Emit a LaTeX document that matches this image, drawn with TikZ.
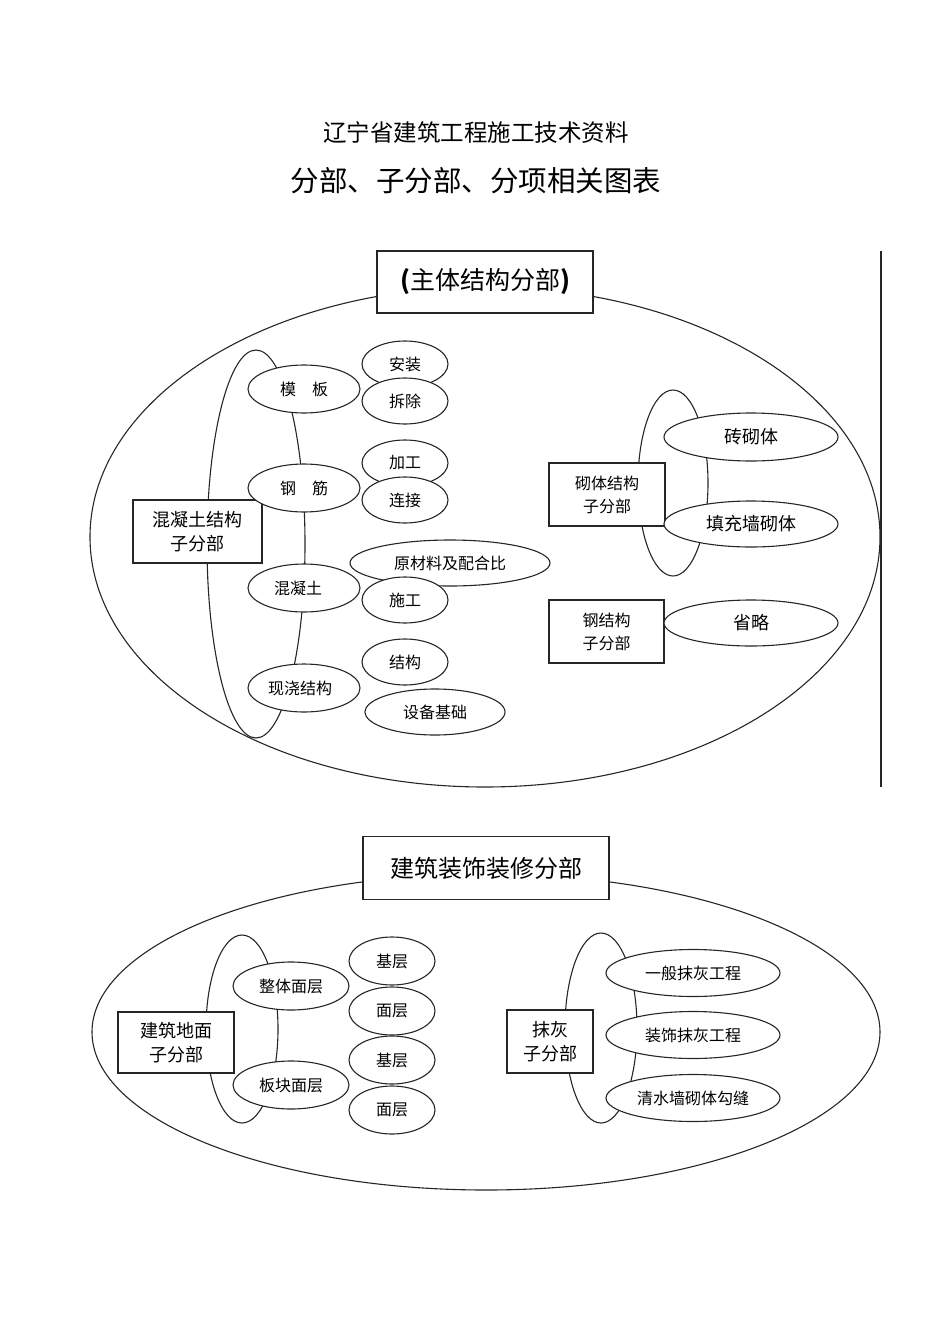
\documentclass[tikz,border=0pt]{standalone}
\usepackage{fontspec}
\setmainfont{Noto Sans CJK SC}
\usetikzlibrary{shapes.geometric}
\newcommand{\fs}[1]{\fontsize{#1}{#1}\selectfont}
\tikzset{
  x=1pt,y=-1pt,
  every node/.style={inner sep=0pt},
  ln/.style={line width=1.1pt, draw=black!85},
  bigel/.style={ln, ellipse},
  brk/.style={ln, ellipse},
  el/.style={ln, ellipse, fill=white, font=\fs{16}},
  box/.style={ln, rectangle, fill=white, align=center, font=\fs{18}},
  tbox/.style={ln, rectangle, fill=white, font=\fs{24}},
}
\begin{document}
\begin{tikzpicture}
\useasboundingbox (0,0) rectangle (950,1344);
% titles
\node (t1) at (476,133) {\fs{23.5}辽宁省建筑工程施工技术资料};
\node (t2) at (476,181) {\fs{28.5}分部、子分部、分项相关图表};

% ===== top section =====
\node[bigel, minimum width=790pt, minimum height=500pt] (E1) at (485,537) {};
\draw[ln] (881,251) coordinate (v1) -- (881,787) coordinate (v2);
\node[tbox, minimum width=216pt, minimum height=62pt, font=\fs{25}] (T1) at (485,282) {\textbf{(}主体结构分部\textbf{)}};

% concrete
\node[brk, minimum width=98pt, minimum height=388pt] (B1) at (256,544) {};
\node[box, minimum width=129pt, minimum height=63pt] (C1) at (197.5,531.5) {混凝土结构\\[6pt]子分部};
\node[el, minimum width=112pt, minimum height=48pt] (mb) at (304,389) {模\quad 板};
\node[el, minimum width=112pt, minimum height=48pt] (gj) at (304,488) {钢\quad 筋};
\node[el, minimum width=112pt, minimum height=48pt] (hnt) at (304,588) {混凝土\hspace*{12pt}};
\node[el, minimum width=112pt, minimum height=48pt] (xj) at (304,688) {现浇结构\hspace*{8pt}};
\node[el, minimum width=86pt, minimum height=46pt] (az) at (405,364) {安装};
\node[el, minimum width=86pt, minimum height=46pt] (cc) at (405,401) {拆除};
\node[el, minimum width=86pt, minimum height=46pt] (jg) at (405,463) {加工};
\node[el, minimum width=86pt, minimum height=46pt] (lj) at (405,500) {连接};
\node[el, minimum width=200pt, minimum height=46pt] (ycl) at (450,563) {原材料及配合比};
\node[el, minimum width=86pt, minimum height=46pt] (sg) at (405,600) {施工};
\node[el, minimum width=86pt, minimum height=46pt] (jgo) at (405,662) {结构};
\node[el, minimum width=140pt, minimum height=46pt] (sb) at (435,712) {设备基础};

% masonry
\node[brk, minimum width=70pt, minimum height=186pt] (B2) at (673,483) {};
\node[box, minimum width=116pt, minimum height=63pt, font=\fs{16}] (C2) at (607,494.5) {砌体结构\\[7pt]子分部};
\node[el, minimum width=174pt, minimum height=48pt, font=\fs{18}] (zqt) at (751,437) {砖砌体};
\node[el, minimum width=174pt, minimum height=46pt, font=\fs{18}] (tcq) at (751,524) {填充墙砌体};

% steel
\node[box, minimum width=115pt, minimum height=63pt, font=\fs{16}] (C3) at (606.5,631.5) {钢结构\\[7pt]子分部};
\node[el, minimum width=174pt, minimum height=46pt, font=\fs{18}] (sl) at (751,623) {省略};

% ===== bottom section =====
\node[bigel, minimum width=788pt, minimum height=316pt] (E2) at (486,1032) {};
\node[tbox, minimum width=246pt, minimum height=63pt] (T2) at (486,868) {建筑装饰装修分部};

\node[brk, minimum width=72pt, minimum height=188pt] (B3) at (242,1029) {};
\node[box, minimum width=116pt, minimum height=61pt] (C4) at (176,1042.5) {建筑地面\\[6pt]子分部};
\node[el, minimum width=116pt, minimum height=48pt] (zt) at (291,986) {整体面层};
\node[el, minimum width=116pt, minimum height=48pt] (bk) at (291,1085) {板块面层};
\node[el, minimum width=86pt, minimum height=48pt] (jc1) at (392,961) {基层};
\node[el, minimum width=86pt, minimum height=48pt] (mc1) at (392,1011) {面层};
\node[el, minimum width=86pt, minimum height=48pt] (jc2) at (392,1060) {基层};
\node[el, minimum width=86pt, minimum height=48pt] (mc2) at (392,1110) {面层};

\node[brk, minimum width=72pt, minimum height=190pt] (B4) at (601,1028) {};
\node[box, minimum width=86pt, minimum height=63pt] (C5) at (550,1041.5) {抹灰\\[6pt]子分部};
\node[el, minimum width=174pt, minimum height=47pt] (yb) at (693,973) {一般抹灰工程};
\node[el, minimum width=174pt, minimum height=47pt] (zs) at (693,1035) {装饰抹灰工程};
\node[el, minimum width=174pt, minimum height=47pt] (qs) at (693,1098) {清水墙砌体勾缝};
\end{tikzpicture}
\end{document}
